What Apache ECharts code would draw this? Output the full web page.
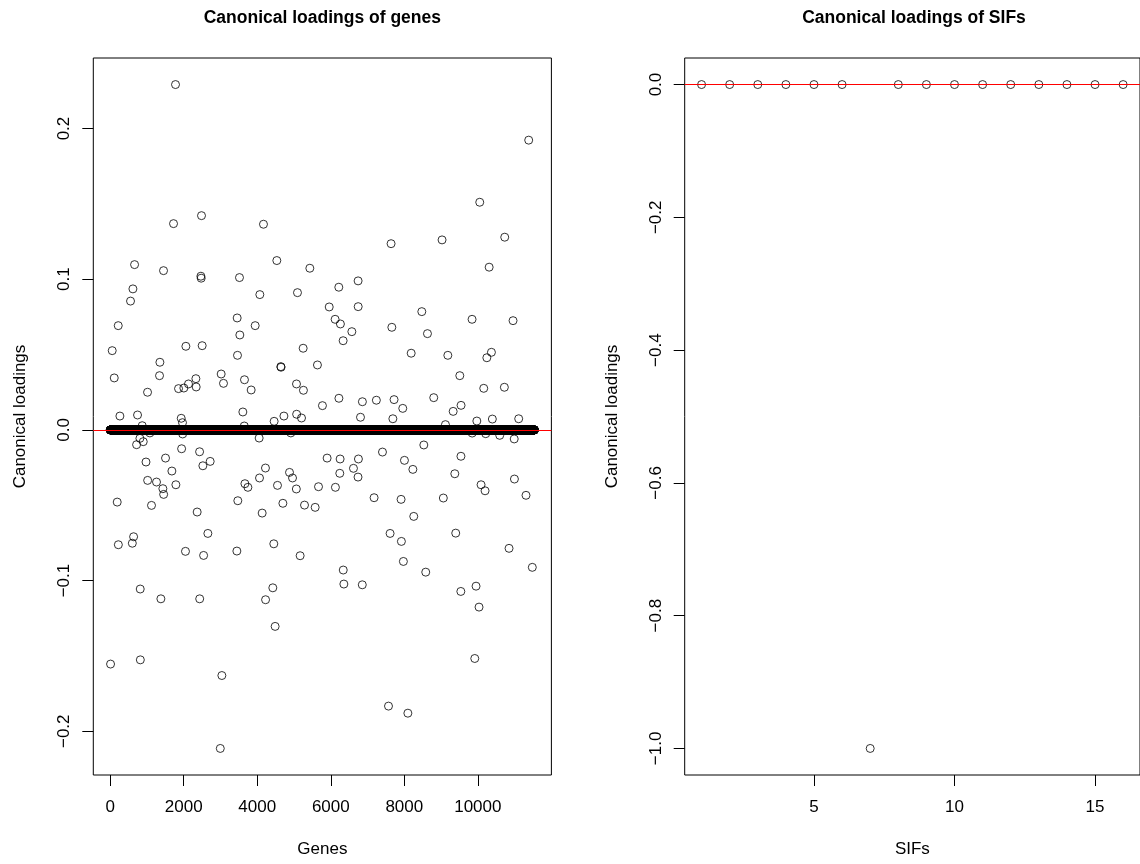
<!DOCTYPE html>
<html>
<head>
<meta charset="utf-8">
<title>Canonical loadings</title>
<script src="https://cdn.jsdelivr.net/npm/echarts@6/dist/echarts.min.js"></script>
<style>
  html, body { margin: 0; padding: 0; background: #fff; }
  #chart { width: 1140px; height: 864px; }
</style>
</head>
<body>
<div id="chart"></div>
<script>
// ---- data ---------------------------------------------------------------
// Number of genes; every gene not listed below has a loading of exactly 0.
const geneCount = 11540;

// Genes with a non-zero canonical loading (gene index, loading).
const geneIdx = [
  1776, 1722, 2483, 4169, 662, 1450, 2466, 2474, 3516, 4532,
  5430, 617, 4070, 5094, 552, 11384, 10052, 7640, 9027, 10732,
  10308, 6743, 6218, 218, 54, 109, 1351, 1341, 1015, 2058,
  2501, 3453, 3943, 3526, 3462, 1858, 2003, 2129, 2330, 2338,
  3018, 3081, 3652, 3834, 4641, 4647, 5067, 5256, 5248, 5637,
  5773, 263, 743, 1931, 1966, 3608, 4459, 4725, 5071, 5204,
  3646, 870, 1079, 1970, 4913, 807, 898, 717, 4051, 1942,
  2431, 973, 1504, 2719, 2520, 1677, 4223, 4061, 4877, 4959,
  1018, 1259, 1432, 1453, 1786, 3664, 3745, 4550, 5063, 5666,
  190, 1123, 2365, 3471, 4133, 4697, 5285, 5575, 636, 601,
  2656, 4450, 5957, 6745, 6118, 6262, 6573, 6336, 7661, 8476,
  8630, 9843, 10958, 8187, 9184, 10245, 10370, 9510, 10161, 10722,
  6221, 6860, 7240, 7721, 7958, 8801, 9544, 9329, 6808, 7689,
  9973, 10395, 11112, 9119, 9846, 10215, 10596, 10990, 8531, 5900,
  6254, 6752, 7406, 8004, 8233, 9541, 6617, 6245, 6741, 9374,
  10996, 6126, 10088, 10197, 11311, 7178, 7912, 9062, 8257, 7613,
  9399, 7921, 221, 2047, 2540, 3445, 5166, 816, 1378, 2434,
  4226, 4423, 4486, 9, 819, 3037, 2994, 10849, 6339, 6356,
  6857, 7975, 8583, 11482, 9538, 9952, 10033, 9917, 7570, 8097
];
const geneLoading = [
  0.2292, 0.1369, 0.1422, 0.1365, 0.1097, 0.1057, 0.1020, 0.1007, 0.1011, 0.1124,
  0.1073, 0.0936, 0.0898, 0.0911, 0.0855, 0.1923, 0.1511, 0.1236, 0.1261, 0.1279,
  0.1080, 0.0989, 0.0947, 0.0692, 0.0526, 0.0345, 0.0449, 0.0360, 0.0250, 0.0555,
  0.0559, 0.0743, 0.0692, 0.0630, 0.0495, 0.0274, 0.0278, 0.0305, 0.0340, 0.0285,
  0.0371, 0.0309, 0.0333, 0.0265, 0.0420, 0.0416, 0.0305, 0.0263, 0.0542, 0.0431,
  0.0161, 0.0092, 0.0099, 0.0077, 0.0048, 0.0119, 0.0057, 0.0092, 0.0104, 0.0079,
  0.0026, 0.0028, -0.0020, -0.0027, -0.0020, -0.0056, -0.0078, -0.0098, -0.0054, -0.0125,
  -0.0145, -0.0213, -0.0187, -0.0209, -0.0238, -0.0273, -0.0253, -0.0319, -0.0282, -0.0319,
  -0.0335, -0.0346, -0.0390, -0.0428, -0.0364, -0.0357, -0.0381, -0.0368, -0.0392, -0.0377,
  -0.0479, -0.0501, -0.0545, -0.0470, -0.0552, -0.0487, -0.0499, -0.0514, -0.0709, -0.0752,
  -0.0687, -0.0756, 0.0816, 0.0818, 0.0734, 0.0703, 0.0652, 0.0592, 0.0681, 0.0785,
  0.0639, 0.0734, 0.0725, 0.0509, 0.0495, 0.0479, 0.0515, 0.0360, 0.0276, 0.0283,
  0.0210, 0.0187, 0.0197, 0.0201, 0.0143, 0.0214, 0.0163, 0.0123, 0.0084, 0.0074,
  0.0059, 0.0072, 0.0074, 0.0035, -0.0021, -0.0025, -0.0036, -0.0060, -0.0100, -0.0187,
  -0.0193, -0.0193, -0.0147, -0.0202, -0.0262, -0.0175, -0.0255, -0.0288, -0.0313, -0.0291,
  -0.0326, -0.0381, -0.0364, -0.0404, -0.0434, -0.0450, -0.0461, -0.0452, -0.0574, -0.0687,
  -0.0685, -0.0740, -0.0762, -0.0806, -0.0833, -0.0804, -0.0835, -0.1056, -0.1121, -0.1121,
  -0.1127, -0.1048, -0.1304, -0.1554, -0.1526, -0.1630, -0.2114, -0.0786, -0.0930, -0.1023,
  -0.1028, -0.0873, -0.0944, -0.0912, -0.1072, -0.1037, -0.1176, -0.1517, -0.1833, -0.1880
];

// Canonical loadings of the 16 SIFs.
const sifLoading = [0, 0, 0, 0, 0, 0, -1, 0, 0, 0, 0, 0, 0, 0, 0, 0];

// Tick positions.
const geneXTicks = [0, 2000, 4000, 6000, 8000, 10000];
const geneYTicks = [-0.2, -0.1, 0, 0.1, 0.2];
const sifXTicks = [5, 10, 15];
const sifYTicks = [-1, -0.8, -0.6, -0.4, -0.2, 0];

// ---- helpers ------------------------------------------------------------
// Pad a data range by 4% on each side, as base graphics does.
function padRange(lo, hi) {
  const d = (hi - lo) * 0.04;
  return [lo - d, hi + d];
}
const minusFmt = v => (v < 0 ? '\u2212' : '') + Math.abs(v).toFixed(1);

const loadingByGene = new Map(geneIdx.map((g, i) => [g, geneLoading[i]]));
const geneData = [];
for (let g = 1; g <= geneCount; g++) {
  geneData.push([g, loadingByGene.has(g) ? loadingByGene.get(g) : 0]);
}
const sifData = sifLoading.map((v, i) => [i + 1, v]);

const geneXR = padRange(1, geneCount);
const geneYR = padRange(Math.min(...geneLoading, 0), Math.max(...geneLoading, 0));
const sifXR = padRange(1, sifLoading.length);
const sifYR = padRange(Math.min(...sifLoading), Math.max(...sifLoading));

// ---- layout -------------------------------------------------------------
const FONT = 'Liberation Sans, Arial, Helvetica, sans-serif';
const FS = 17;
const panels = [
  { left: 93.3, top: 58, width: 458.1, height: 717 },
  { left: 684.7, top: 58, width: 458.6, height: 717 }
];

function xAxisOf(gridIndex, range, ticks, name, fmt) {
  return {
    type: 'value', gridIndex, min: range[0], max: range[1],
    name, nameLocation: 'middle', nameGap: 66,
    nameTextStyle: { color: '#000', fontSize: FS, fontFamily: FONT },
    axisLine: { show: false, onZero: false },
    splitLine: { show: false },
    axisTick: { show: true, length: 11, customValues: ticks, lineStyle: { color: '#000', width: 1 } },
    axisLabel: { customValues: ticks, formatter: fmt, margin: 24, color: '#000', fontSize: FS, fontFamily: FONT }
  };
}
function yAxisOf(gridIndex, range, ticks) {
  return {
    type: 'value', gridIndex, min: range[0], max: range[1],
    name: 'Canonical loadings', nameLocation: 'middle', nameGap: 64, nameRotate: 90,
    nameTextStyle: { color: '#000', fontSize: FS, fontFamily: FONT },
    axisLine: { show: false, onZero: false },
    splitLine: { show: false },
    axisTick: { show: true, length: 11, customValues: ticks, lineStyle: { color: '#000', width: 1 } },
    axisLabel: { customValues: ticks, formatter: minusFmt, rotate: 90, margin: 20, color: '#000', fontSize: FS, fontFamily: FONT }
  };
}

// Hollow black circles, like pch = 1.
const pointStyle = () => ({ color: 'rgba(0,0,0,0)', borderColor: '#000', borderWidth: 1 });
// Horizontal red reference line at loading 0.
const zeroLine = () => ({
  silent: true, symbol: ['none', 'none'], animation: false,
  label: { show: false },
  lineStyle: { color: '#ff0000', width: 1.2, type: 'solid', opacity: 1 },
  emphasis: { disabled: true },
  data: [{ yAxis: 0 }]
});

const option = {
  animation: false,
  backgroundColor: '#fff',
  grid: panels.map(p => Object.assign({ show: true, borderColor: '#000', borderWidth: 1, containLabel: false }, p)),
  xAxis: [
    xAxisOf(0, geneXR, geneXTicks, 'Genes', v => String(v)),
    xAxisOf(1, sifXR, sifXTicks, 'SIFs', v => String(v))
  ],
  yAxis: [
    yAxisOf(0, geneYR, geneYTicks),
    yAxisOf(1, sifYR, sifYTicks)
  ],
  graphic: [
    { type: 'text', x: panels[0].left + panels[0].width / 2, y: 18,
      style: { text: 'Canonical loadings of genes', fill: '#000', font: 'bold 17.5px ' + FONT, align: 'center', verticalAlign: 'middle' } },
    { type: 'text', x: panels[1].left + panels[1].width / 2, y: 18,
      style: { text: 'Canonical loadings of SIFs', fill: '#000', font: 'bold 17.5px ' + FONT, align: 'center', verticalAlign: 'middle' } }
  ],
  series: [
    {
      type: 'scatter', xAxisIndex: 0, yAxisIndex: 0,
      data: geneData, symbol: 'circle', symbolSize: 8,
      itemStyle: pointStyle(), large: false, progressive: 0,
      emphasis: { disabled: true }, silent: true,
      markLine: zeroLine()
    },
    {
      type: 'scatter', xAxisIndex: 1, yAxisIndex: 1,
      data: sifData, symbol: 'circle', symbolSize: 8,
      itemStyle: pointStyle(), emphasis: { disabled: true }, silent: true,
      markLine: zeroLine()
    }
  ]
};

const chart = echarts.init(document.getElementById('chart'), null, { renderer: 'canvas' });
chart.setOption(option);
</script>
</body>
</html>
